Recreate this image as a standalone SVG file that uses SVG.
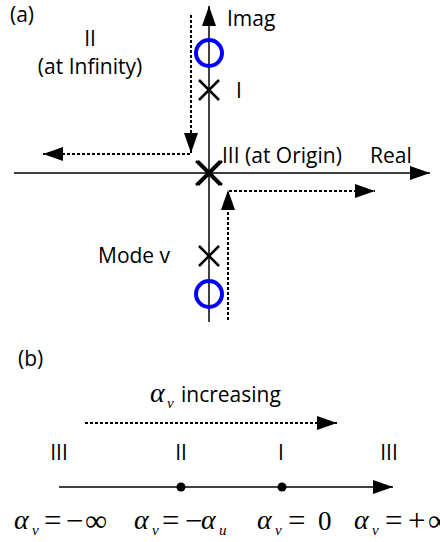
<svg xmlns="http://www.w3.org/2000/svg" width="440" height="542" viewBox="0 0 440 542">
<style>
.t{font-family:"Open Sans","Noto Sans",sans-serif;font-size:21px;fill:#000}
.m{font-family:"Liberation Serif","Times New Roman",serif;fill:#000}
.a{font-family:"Liberation Serif","Times New Roman",serif;font-style:italic;font-size:28px;fill:#000}
.s{font-family:"Liberation Serif","Times New Roman",serif;font-style:italic;font-size:15px;fill:#000}
.op{font-family:"Liberation Serif","Times New Roman",serif;font-size:31px;fill:#000}
.ax{stroke:#000;stroke-width:1.5;fill:none}
.dot{stroke:#000;stroke-width:2;stroke-dasharray:3 2;fill:none}
.pole{stroke:#000;stroke-width:2.5;fill:none}
.zero{stroke:#0000ff;stroke-width:4;fill:none}
</style>
<defs>
<marker id="ah" markerUnits="userSpaceOnUse" markerWidth="20" markerHeight="14" refX="20" refY="7" orient="auto">
<path d="M0,0 L20,7 L0,14 z" fill="#000"/>
</marker>
</defs>
<rect width="440" height="542" fill="#fff"/>
<g id="connectors">
<line class="ax" x1="209" y1="322" x2="209" y2="6" marker-end="url(#ah)"/>
<line class="ax" x1="14" y1="173" x2="430" y2="173" marker-end="url(#ah)"/>
<polyline class="dot" points="191,15 191,154 43,154" />
<line class="dot" x1="191" y1="140" x2="191" y2="153" stroke-dasharray="none" marker-end="url(#ah)"/>
<line class="dot" x1="60" y1="154" x2="43" y2="154" stroke-dasharray="none" marker-end="url(#ah)"/>
<polyline class="dot" points="228,320 228,191 375,191"/>
<line class="dot" x1="228" y1="205" x2="228" y2="190" stroke-dasharray="none" marker-end="url(#ah)"/>
<line class="dot" x1="360" y1="191" x2="375" y2="191" stroke-dasharray="none" marker-end="url(#ah)"/>
<line class="dot" x1="85" y1="423" x2="337" y2="423" marker-end="url(#ah)"/>
<line class="ax" x1="59" y1="487" x2="393" y2="487" marker-end="url(#ah)"/>
</g>
<g id="labels-a">
<text class="t" x="10" y="22">(a)</text>
<text class="t" x="90" y="46" text-anchor="middle" font-size="22">II</text>
<text class="t" x="90" y="74" text-anchor="middle" font-size="22">(at Infinity)</text>
<text class="t" x="227" y="26">Imag</text>
<text class="t" x="236" y="98">I</text>
<text class="t" x="222" y="163" font-size="20">III (at Origin)</text>
<text class="t" x="370" y="163">Real</text>
<text class="t" x="98" y="263">Mode v</text>
</g>
<g id="zero-top"><circle class="zero" cx="209" cy="53" r="13"/></g>
<g id="pole-I"><path class="pole" d="M199,80 L219,100 M219,80 L199,100"/></g>
<g id="pole-origin"><path class="pole" d="M196,161 L220,185 M220,161 L196,185 M198,161 L222,185 M222,161 L198,185"/></g>
<g id="pole-v"><path class="pole" d="M199,246 L219,266 M219,246 L199,266"/></g>
<g id="zero-bottom"><circle class="zero" cx="209" cy="294" r="13"/></g>
<g id="labels-b">
<text class="t" x="18" y="366">(b)</text>
<text class="a" x="150" y="402" font-size="27">α</text>
<text class="s" x="167" y="408" font-size="14">v</text>
<text class="t" x="181" y="402">increasing</text>
<text class="t" x="59" y="460" text-anchor="middle">III</text>
<text class="t" x="181" y="460" text-anchor="middle">II</text>
<text class="t" x="281" y="460" text-anchor="middle">I</text>
<text class="t" x="389" y="460" text-anchor="middle">III</text>
</g>
<g id="dot-II"><circle cx="181" cy="487" r="4.5" fill="#000"/></g>
<g id="dot-I"><circle cx="282" cy="487" r="4.5" fill="#000"/></g>
<g id="formulas">
<text class="a" x="14" y="529">α</text><text class="s" x="32" y="535">v</text>
<text class="op" x="44" y="531">=</text><text class="op" x="66" y="531">−</text><text class="op" x="85" y="531" font-size="33">∞</text>
<text class="a" x="134" y="529">α</text><text class="s" x="152" y="535">v</text>
<text class="op" x="162" y="531">=</text><text class="op" x="185" y="531">−</text><text class="a" x="201" y="529">α</text><text class="s" x="219" y="535">u</text>
<text class="a" x="257" y="529">α</text><text class="s" x="275" y="535">v</text>
<text class="op" x="288" y="531">=</text><text class="m" x="318" y="530" font-size="27">0</text>
<text class="a" x="354" y="529">α</text><text class="s" x="372" y="535">v</text>
<text class="op" x="385" y="531">=</text><text class="op" x="408" y="531">+</text><text class="op" x="428" y="531" font-size="31">∞</text>
</g>
</svg>
